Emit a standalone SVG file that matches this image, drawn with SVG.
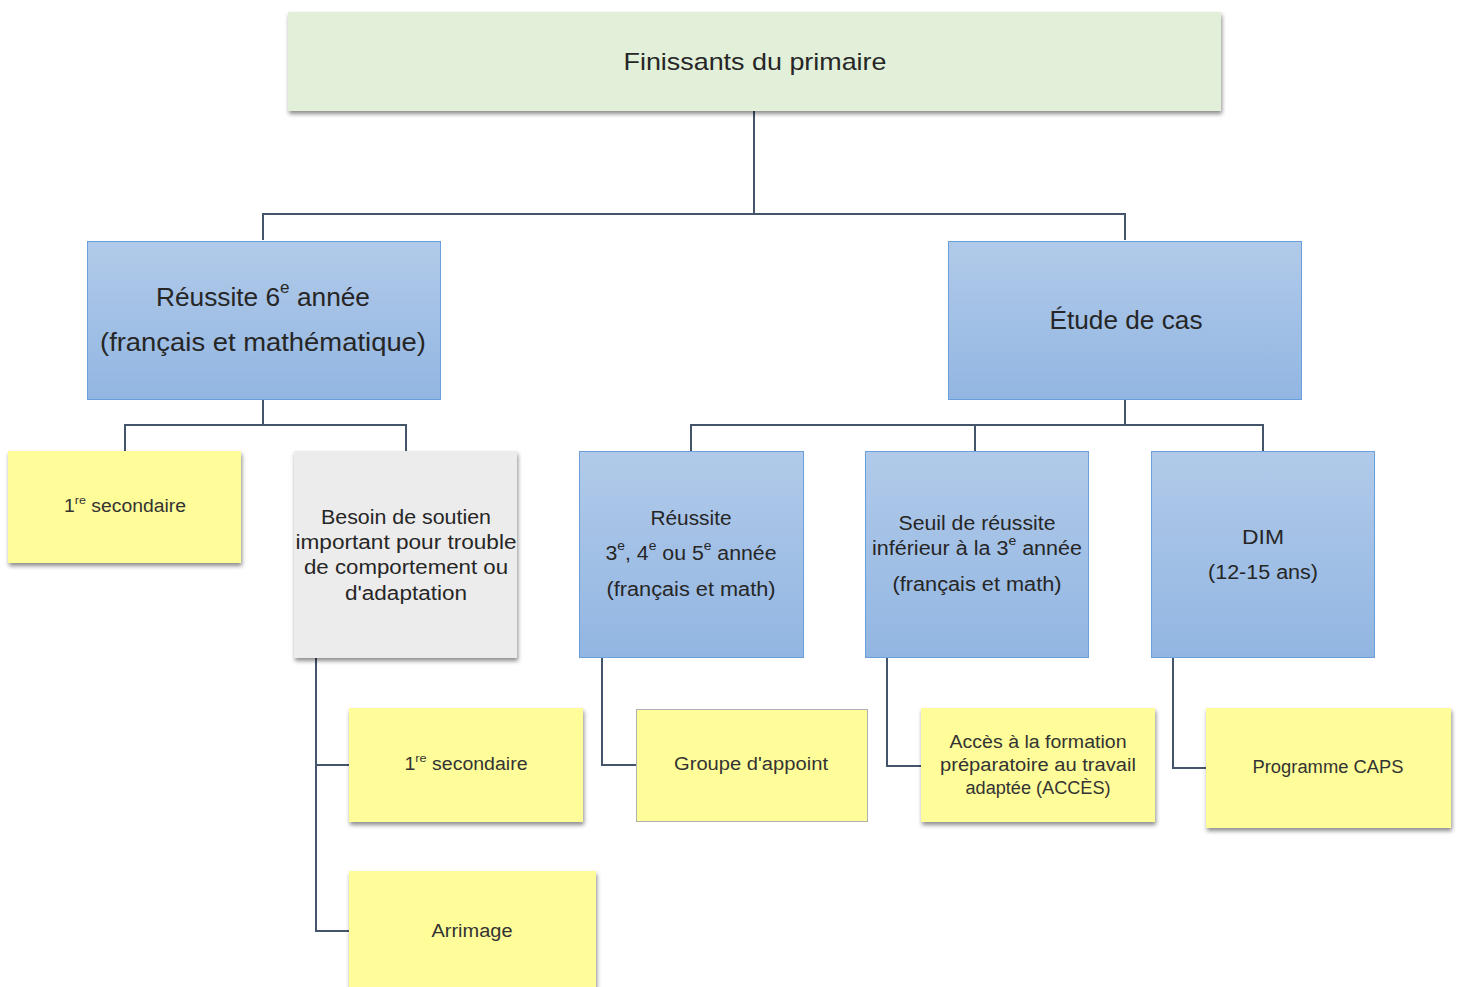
<svg xmlns="http://www.w3.org/2000/svg" width="1460" height="987" viewBox="0 0 1460 987">
<defs>
<linearGradient id="blue" x1="0" y1="0" x2="0" y2="1">
<stop offset="0" stop-color="#b1cae9"/>
<stop offset="1" stop-color="#92b6e2"/>
</linearGradient>
<filter id="sh" x="-5%" y="-5%" width="115%" height="125%">
<feDropShadow dx="1" dy="3" stdDeviation="2" flood-color="#000" flood-opacity="0.45"/>
</filter>
<style>
.t{font-family:"Liberation Sans","Open Sans",Arial,sans-serif;fill:#262626;text-anchor:middle;dominant-baseline:central}
.y{fill:#fffd99}
.b{fill:url(#blue);stroke:#6a9fdc;stroke-width:1}
.c{fill:none;stroke:#44546a;stroke-width:2}
.s{font-size:65%;baseline-shift:super}
.ty{fill:#333}
</style>
</defs>
<rect width="1460" height="987" fill="#fff"/>
<g id="connectors">
<path class="c" d="M754 111V214M263 240V214H1125V240"/>
<path class="c" d="M263 400V425M125 451V425H406V451"/>
<path class="c" d="M1125 400V425M691 451V425H1263V451M975 425V451"/>
<path class="c" d="M316 658V931H349M316 765H349"/>
<path class="c" d="M602 658V765H636"/>
<path class="c" d="M887 658V766H921"/>
<path class="c" d="M1173 658V768H1206"/>
</g>
<g id="n-finissants">
<rect x="288" y="12" width="933" height="99" fill="#e2efd9" filter="url(#sh)"/>
<text class="t" x="755" y="61" font-size="24" textLength="263" lengthAdjust="spacingAndGlyphs">Finissants du primaire</text>
</g>
<g id="n-reussite6">
<rect class="b" x="87.5" y="241.5" width="353" height="158"/>
<text class="t" x="263" y="297" font-size="26" textLength="214" lengthAdjust="spacingAndGlyphs">Réussite 6<tspan class="s">e</tspan> année</text>
<text class="t" x="263" y="342" font-size="26" textLength="326" lengthAdjust="spacingAndGlyphs">(français et mathématique)</text>
</g>
<g id="n-etude">
<rect class="b" x="948.5" y="241.5" width="353" height="158"/>
<text class="t" x="1126" y="320" font-size="26" textLength="153" lengthAdjust="spacingAndGlyphs">Étude de cas</text>
</g>
<g id="n-sec1">
<rect class="y" x="8" y="451" width="233" height="112" filter="url(#sh)"/>
<text class="t ty" x="125" y="506" font-size="18" textLength="122" lengthAdjust="spacingAndGlyphs">1<tspan class="s">re</tspan> secondaire</text>
</g>
<g id="n-besoin">
<rect x="294" y="451" width="223" height="207" fill="#ececec" filter="url(#sh)"/>
<text class="t" x="406" y="517" font-size="20" textLength="170" lengthAdjust="spacingAndGlyphs">Besoin de soutien</text>
<text class="t" x="406" y="542" font-size="20" textLength="221" lengthAdjust="spacingAndGlyphs">important pour trouble</text>
<text class="t" x="406" y="567" font-size="20" textLength="204" lengthAdjust="spacingAndGlyphs">de comportement ou</text>
<text class="t" x="406" y="593" font-size="20" textLength="122" lengthAdjust="spacingAndGlyphs">d'adaptation</text>
</g>
<g id="n-reussite3">
<rect class="b" x="579.5" y="451.5" width="224" height="206"/>
<text class="t" x="691" y="518" font-size="20" textLength="81" lengthAdjust="spacingAndGlyphs">Réussite</text>
<text class="t" x="691" y="553" font-size="20" textLength="171" lengthAdjust="spacingAndGlyphs">3<tspan class="s">e</tspan>, 4<tspan class="s">e</tspan> ou 5<tspan class="s">e</tspan> année</text>
<text class="t" x="691" y="589" font-size="20" textLength="169" lengthAdjust="spacingAndGlyphs">(français et math)</text>
</g>
<g id="n-seuil">
<rect class="b" x="865.5" y="451.5" width="223" height="206"/>
<text class="t" x="977" y="523" font-size="20" textLength="157" lengthAdjust="spacingAndGlyphs">Seuil de réussite</text>
<text class="t" x="977" y="548" font-size="20" textLength="210" lengthAdjust="spacingAndGlyphs">inférieur à la 3<tspan class="s">e</tspan> année</text>
<text class="t" x="977" y="584" font-size="20" textLength="169" lengthAdjust="spacingAndGlyphs">(français et math)</text>
</g>
<g id="n-dim">
<rect class="b" x="1151.5" y="451.5" width="223" height="206"/>
<text class="t" x="1263" y="537" font-size="20" textLength="42" lengthAdjust="spacingAndGlyphs">DIM</text>
<text class="t" x="1263" y="572" font-size="20" textLength="110" lengthAdjust="spacingAndGlyphs">(12-15 ans)</text>
</g>
<g id="n-sec1b">
<rect class="y" x="349" y="708" width="234" height="114" filter="url(#sh)"/>
<text class="t ty" x="466" y="764" font-size="18" textLength="123" lengthAdjust="spacingAndGlyphs">1<tspan class="s">re</tspan> secondaire</text>
</g>
<g id="n-arrimage">
<rect class="y" x="349" y="871" width="247" height="130" filter="url(#sh)"/>
<text class="t ty" x="472" y="931" font-size="18" textLength="81" lengthAdjust="spacingAndGlyphs">Arrimage</text>
</g>
<g id="n-groupe">
<rect class="y" x="636.5" y="709.5" width="231" height="112" stroke="#b0b0b0" stroke-width="1"/>
<text class="t ty" x="751" y="764" font-size="18" textLength="154" lengthAdjust="spacingAndGlyphs">Groupe d'appoint</text>
</g>
<g id="n-acces">
<rect class="y" x="921" y="708" width="234" height="114" filter="url(#sh)"/>
<text class="t ty" x="1038" y="742" font-size="18" textLength="177" lengthAdjust="spacingAndGlyphs">Accès à la formation</text>
<text class="t ty" x="1038" y="765" font-size="18" textLength="196" lengthAdjust="spacingAndGlyphs">préparatoire au travail</text>
<text class="t ty" x="1038" y="788" font-size="18" textLength="145" lengthAdjust="spacingAndGlyphs">adaptée (ACCÈS)</text>
</g>
<g id="n-caps">
<rect class="y" x="1206" y="708" width="245" height="120" filter="url(#sh)"/>
<text class="t ty" x="1328" y="767" font-size="18" textLength="151" lengthAdjust="spacingAndGlyphs">Programme CAPS</text>
</g>
</svg>
